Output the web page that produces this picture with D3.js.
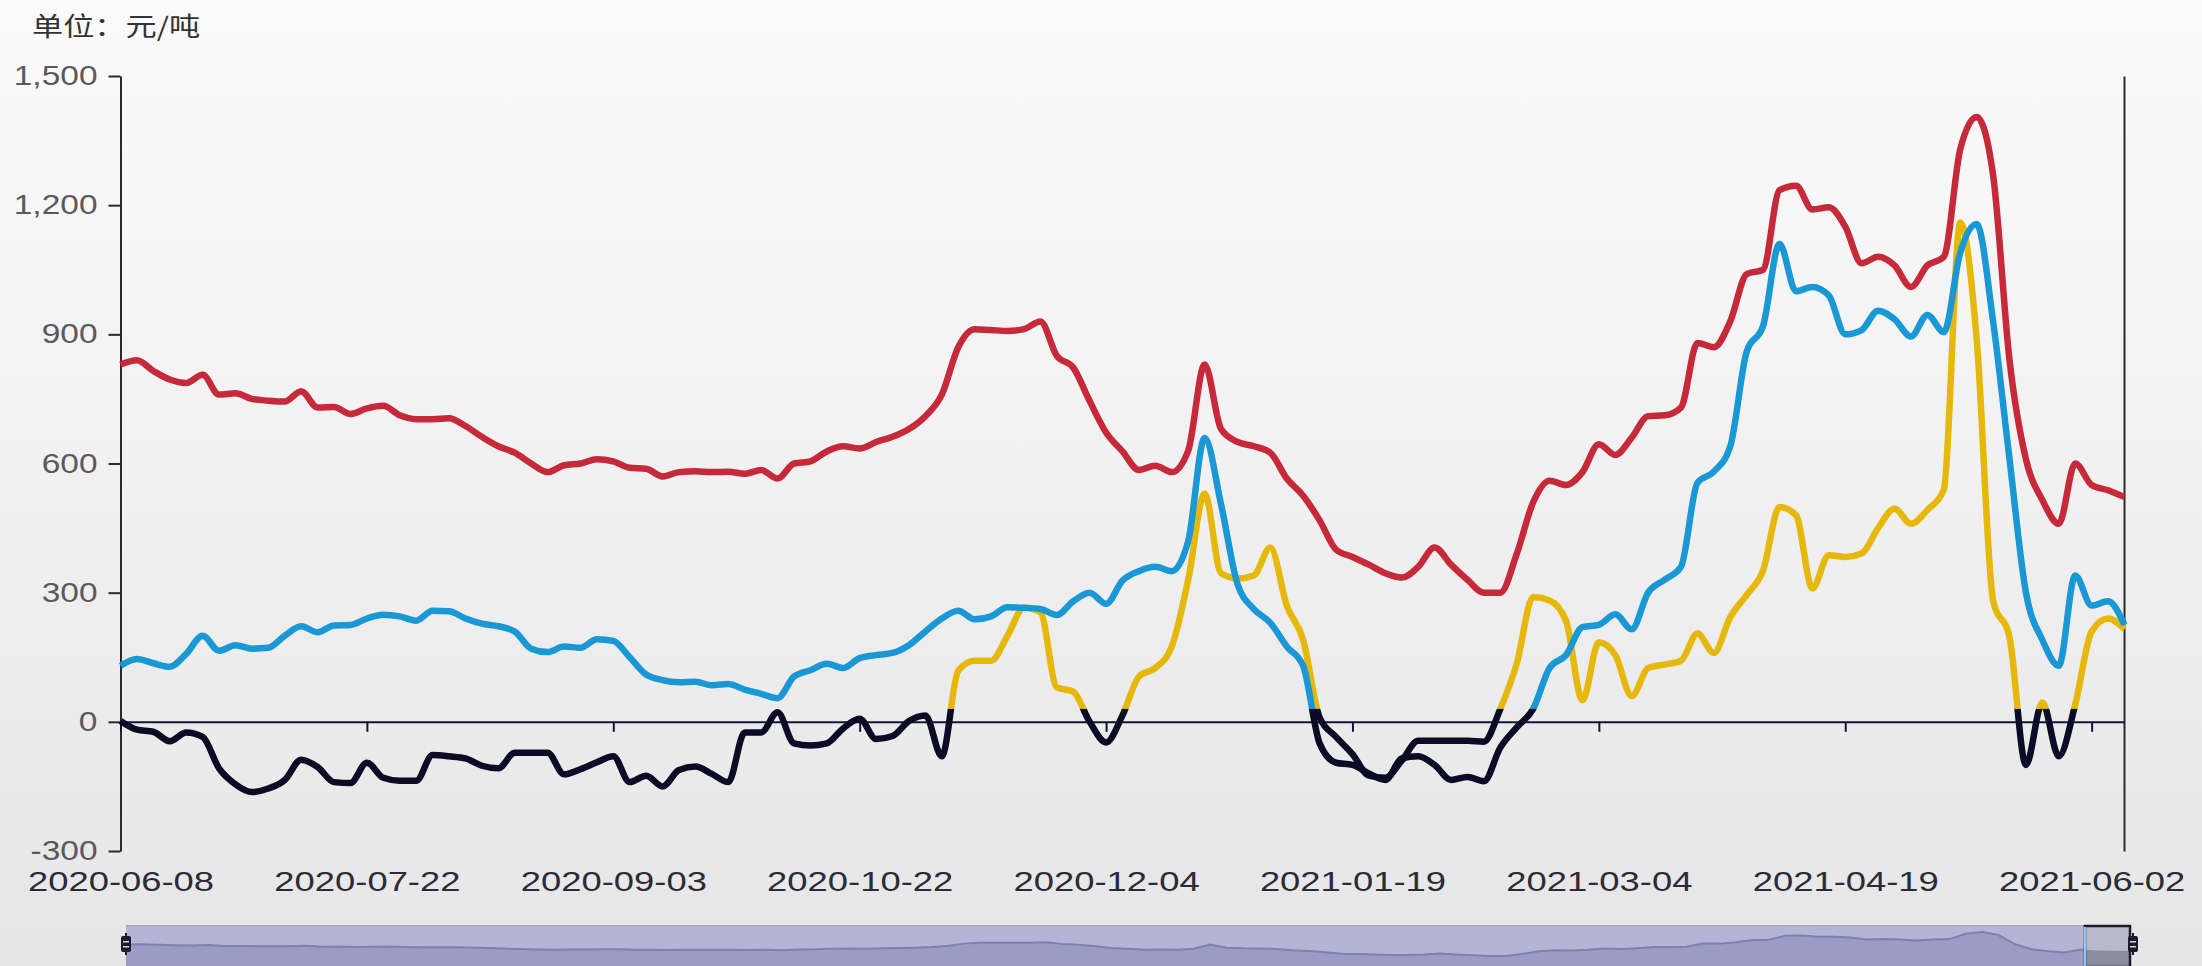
<!DOCTYPE html>
<html><head><meta charset="utf-8">
<script src="https://cdn.jsdelivr.net/npm/d3@7"></script>
<style>html,body{margin:0;padding:0;background:#eeeeee;overflow:hidden}svg{display:block}</style>
</head><body><svg id="c" width="2202" height="966"></svg>
<script>
// ---------------- data ----------------
const tickLabels = ["2020-06-08","2020-07-22","2020-09-03","2020-10-22","2020-12-04","2021-01-19","2021-03-04","2021-04-19","2021-06-02"];
const tailDates = ["2021-06-03","2021-06-04"];
const stepsPerLabel = 15;
const unitLabel = "单位：元/吨";
const yTicks = [-300, 0, 300, 600, 900, 1200, 1500];
const blackBelow = 30;

const redSeries = [830,840,815,795,787,806,760,763,750,746,
744,768,730,731,715,728,734,712,703,703,
705,687,662,640,625,600,580,596,600,610,
605,590,588,570,580,582,580,581,576,585,
565,600,605,628,640,635,650,662,680,710,
760,870,912,910,908,912,930,850,823,745,
672,628,585,595,580,630,830,680,650,640,
625,565,525,468,400,383,365,345,335,360,
405,365,330,300,300,390,510,560,550,580,
645,620,660,710,712,730,880,870,930,1040,
1050,1235,1245,1190,1195,1150,1065,1080,1060,1010,
1060,1080,1330,1405,1270,840,610,515,460,600,
550,538,522];

const blueSeries = [130,146,136,128,158,200,165,178,170,172,
200,222,208,224,225,240,249,245,235,258,
257,240,228,222,210,170,162,175,172,192,
188,150,110,97,92,93,85,88,75,65,
55,105,120,135,125,148,155,160,178,210,
240,258,238,245,266,265,262,248,280,300,
274,328,350,360,350,420,659,505,320,262,
230,175,130,-50,-95,-100,-120,-135,-85,-80,
-100,-135,-128,-138,-60,-13,30,125,155,220,
225,250,215,300,330,360,555,581,640,860,
920,1110,1000,1010,990,900,910,955,935,895,
945,905,1090,1156,930,610,300,190,130,340,
270,280,225];

const yellowSeries = [2,-18,-23,-45,-25,-35,-108,-145,-163,-155,
-135,-88,-105,-140,-142,-95,-130,-137,-137,-77,
-80,-85,-102,-108,-72,-72,-72,-122,-110,-94,
-80,-140,-125,-150,-112,-104,-121,-140,-25,-25,
22,-50,-55,-50,-15,7,-40,-33,2,15,
-80,119,142,142,200,265,255,80,70,0,
-48,15,105,125,175,330,530,345,333,340,
405,270,190,10,-35,-75,-125,-130,-90,-44,
-44,-44,-44,-46,30,135,290,282,235,50,
185,155,60,125,133,142,205,160,243,295,
352,499,480,310,387,383,391,450,495,460,
492,540,1160,890,282,196,-100,45,-80,40,
210,240,215];

const colors = {red:"#c6293a", blue:"#1a98d5", yellow:"#e6b80c", neg:"#0b0b26"};

// ---------------- setup ----------------
const W = 2202, H = 966, SX = 1.2;
const svg = d3.select("#c");
const defs = svg.append("defs");
const bg = defs.append("linearGradient").attr("id","bg").attr("x1",0).attr("y1",0).attr("x2",0).attr("y2",1);
bg.append("stop").attr("offset",0).attr("stop-color","#fbfbfb");
bg.append("stop").attr("offset",1).attr("stop-color","#e6e6e6");
svg.append("rect").attr("width",W).attr("height",H).attr("fill","url(#bg)");

const parse = d3.utcParse("%Y-%m-%d"), fmt = d3.utcFormat("%Y-%m-%d");
const categories = [];
for (let i = 0; i < tickLabels.length - 1; i++) {
  const a = parse(tickLabels[i]), b = parse(tickLabels[i+1]);
  const days = d3.utcDay.count(a, b);
  for (let k = 0; k < stepsPerLabel; k++) categories.push(fmt(d3.utcDay.offset(a, Math.round(k*days/stepsPerLabel))));
}
categories.push(tickLabels[tickLabels.length-1], ...tailDates);
const labelled = categories.filter((c, i) => i % stepsPerLabel === 0);

const x = d3.scalePoint().domain(categories).range([120.5, 2124.5]);
const y = d3.scaleLinear().domain([-300, 1500]).range([851, 76]);
const numFont = "'Liberation Sans', Arial, sans-serif";

// unit label
svg.append("text").attr("transform", `translate(32,36) scale(${SX},1)`)
  .attr("font-family","'Noto Sans CJK SC', sans-serif").attr("font-size",26).attr("fill","#333")
  .text(unitLabel);

// left y axis
const yAxis = d3.axisLeft(y).tickValues(yTicks).tickSize(12).tickSizeOuter(0)
  .tickFormat(d => d3.format(",")(d).replace("\u2212","-"));
const gy = svg.append("g").attr("transform","translate(120.5,0)").call(yAxis);
gy.attr("font-family", numFont).attr("font-size", 27);
gy.select(".domain").attr("stroke","#2a2a2a").attr("stroke-width",2);
gy.selectAll(".tick line").attr("stroke","#2a2a2a").attr("stroke-width",2);
gy.selectAll(".tick text").attr("x",null).attr("dy",null).attr("y",null)
  .attr("text-anchor","end").attr("fill","#5a5a5a")
  .attr("transform",`translate(-23,8.5) scale(1.24,1)`);

// right axis line
const gr = svg.append("g").attr("transform","translate(2124,0)").call(d3.axisRight(y).tickValues([]).tickSizeOuter(0));
gr.select(".domain").attr("stroke","#2a2a2a").attr("stroke-width",2);

// bottom labels
const xLab = d3.axisBottom(x).tickValues(labelled).tickSize(0).tickFormat(d => d);
const gxl = svg.append("g").attr("transform","translate(0,851)").call(xLab);
gxl.select(".domain").remove();
gxl.attr("font-family", numFont).attr("font-size", 28);
gxl.selectAll(".tick text").attr("y",null).attr("dy",null).attr("fill","#2b2b38")
  .attr("transform",`translate(0,40) scale(1.3,1)`);

// lines
const line = d3.line().x((d,i) => x(categories[i])).y(d => y(d)).curve(d3.curveMonotoneX);
function negGrad(id, color) {
  const g = defs.append("linearGradient").attr("id", id).attr("gradientUnits","userSpaceOnUse")
    .attr("x1",0).attr("x2",0).attr("y1", y(blackBelow) - 0.5).attr("y2", y(blackBelow) + 0.5);
  g.append("stop").attr("offset",0).attr("stop-color",color);
  g.append("stop").attr("offset",1).attr("stop-color",colors.neg);
}
negGrad("gy", colors.yellow);
negGrad("gb", colors.blue);

// zero axis (ticks, no labels)
const gz = svg.append("g").attr("transform",`translate(0,${y(0)})`)
  .call(d3.axisBottom(x).tickValues(labelled).tickSize(10).tickSizeOuter(0).tickFormat(""));
gz.select(".domain").attr("stroke","#14143a").attr("stroke-width",2);
gz.selectAll(".tick line").attr("stroke","#14143a").attr("stroke-width",2);

const lw = 6.5;
svg.append("path").datum(redSeries).attr("d", line).attr("fill","none")
  .attr("stroke", colors.red).attr("stroke-width", lw).attr("stroke-linejoin","round");
svg.append("path").datum(yellowSeries).attr("d", line).attr("fill","none")
  .attr("stroke", "url(#gy)").attr("stroke-width", lw).attr("stroke-linejoin","round");
svg.append("path").datum(blueSeries).attr("d", line).attr("fill","none")
  .attr("stroke", "url(#gb)").attr("stroke-width", lw).attr("stroke-linejoin","round");

// ---------------- slider (data zoom) ----------------
const sL = 126, sR = 2130, sT = 925, sB = 966;
const sx = d3.scalePoint().domain(categories).range([sL, sR]);
const ext = d3.extent(redSeries), rng = ext[1] - ext[0];
const sy = d3.scaleLinear().domain([ext[0] - 0.3*rng, ext[1] + 0.3*rng]).range([963, sT]);
defs.append("clipPath").attr("id","sclip").append("rect").attr("x",sL).attr("y",sT).attr("width",sR-sL).attr("height",sB-sT);
defs.append("clipPath").attr("id","bclip").append("rect").attr("x",2084).attr("y",sT).attr("width",sR-2084).attr("height",sB-sT);
svg.append("rect").attr("x",sL).attr("y",sT).attr("width",sR-sL).attr("height",sB-sT).attr("fill","#b4b4d6");
const area = d3.area().x((d,i) => sx(categories[i])).y0(sB).y1(d => sy(d)).curve(d3.curveLinear);
const sline = d3.line().x((d,i) => sx(categories[i])).y(d => sy(d));
svg.append("path").datum(redSeries).attr("d", area).attr("fill","#9a9cc4").attr("clip-path","url(#sclip)");
svg.append("path").datum(redSeries).attr("d", sline).attr("fill","none").attr("stroke","#7f81ad").attr("stroke-width",2).attr("clip-path","url(#sclip)");
svg.append("rect").attr("x",2084).attr("y",sT).attr("width",sR-2084).attr("height",sB-sT).attr("fill","#b9b9cc").attr("clip-path","url(#sclip)");
svg.append("path").datum(redSeries).attr("d", area).attr("fill","#8b8b9f").attr("clip-path","url(#bclip)");
svg.append("line").attr("x1",sL).attr("x2",sR).attr("y1",sT+0.5).attr("y2",sT+0.5).attr("stroke","#a0a2cc").attr("stroke-width",1);
svg.append("rect").attr("x",2085).attr("y",sT+1).attr("width",sR-2085).attr("height",sB-sT).attr("fill","none").attr("stroke","#1b1b2b").attr("stroke-width",2.5);
svg.append("line").attr("x1",2085).attr("x2",2085).attr("y1",sT+2).attr("y2",sB).attr("stroke","#8cc8ff").attr("stroke-width",2);

function handle(cx) {
  const g = svg.append("g").attr("transform",`translate(${cx},944)`);
  g.append("line").attr("y1",-11).attr("y2",11).attr("stroke","#1b1b2b").attr("stroke-width",2);
  g.append("rect").attr("x",-5).attr("y",-8).attr("width",10).attr("height",16).attr("rx",2).attr("fill","#1b1b2b");
  [-3,2].forEach(dy => g.append("rect").attr("x",-3).attr("y",dy).attr("width",6).attr("height",1.5).attr("fill","#d8d8e4"));
}
handle(sL);
handle(sR + 3);
</script></body></html>
